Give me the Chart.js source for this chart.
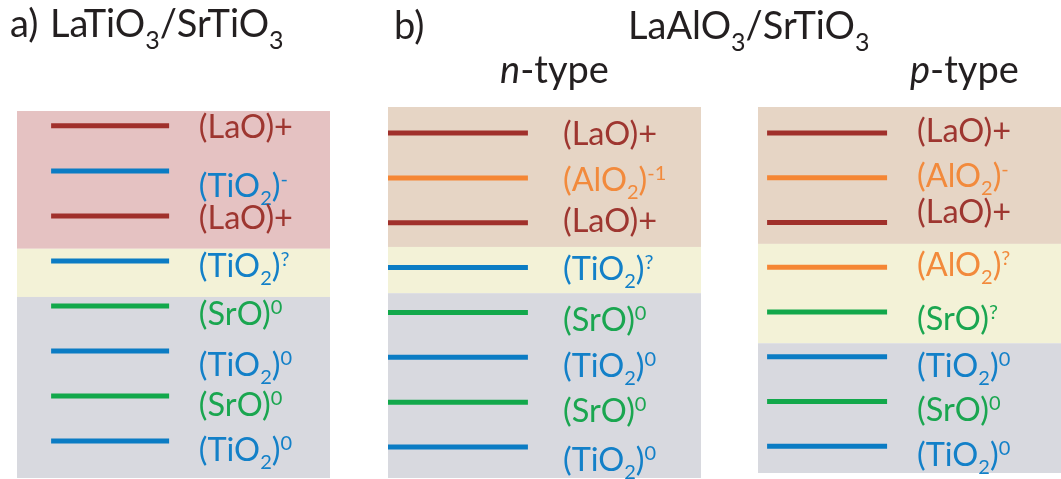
<!DOCTYPE html>
<html>
<head>
<meta charset="utf-8">
<script src="https://cdn.jsdelivr.net/npm/chart.js@4.4.1/dist/chart.umd.min.js"></script>
<style>
    html, body { margin: 0; padding: 0; background: #fff; }
    #wrap { position: relative; width: 1061px; height: 479px; }
    #wrap canvas { position: absolute; left: 0; top: 0; }
</style>
</head>
<body>
<div id="wrap">
    <canvas id="panelA" width="1061" height="479"></canvas>
    <canvas id="panelN" width="1061" height="479"></canvas>
    <canvas id="panelP" width="1061" height="479"></canvas>
</div>
<script>
// Layer stacks, surface first. _{} = subscript, ^{} = superscript, *..* = italic
const layersA = ['(LaO)+', '(TiO_{2})^{-}', '(LaO)+', '(TiO_{2})^{?}', '(SrO)^{0}', '(TiO_{2})^{0}', '(SrO)^{0}', '(TiO_{2})^{0}'];
const speciesA = ['LaO', 'TiO2', 'LaO', 'TiO2', 'SrO', 'TiO2', 'SrO', 'TiO2'];

const layersN = ['(LaO)+', '(AlO_{2})^{-1}', '(LaO)+', '(TiO_{2})^{?}', '(SrO)^{0}', '(TiO_{2})^{0}', '(SrO)^{0}', '(TiO_{2})^{0}'];
const speciesN = ['LaO', 'AlO2', 'LaO', 'TiO2', 'SrO', 'TiO2', 'SrO', 'TiO2'];

const layersP = ['(LaO)+', '(AlO_{2})^{-}', '(LaO)+', '(AlO_{2})^{?}', '(SrO)^{?}', '(TiO_{2})^{0}', '(SrO)^{0}', '(TiO_{2})^{0}'];
const speciesP = ['LaO', 'AlO2', 'LaO', 'AlO2', 'SrO', 'TiO2', 'SrO', 'TiO2'];

// region boundaries in layer units (film / interface / substrate)
const edgesA = [-0.33, 2.73, 3.8, 7.82];
const edgesN = [-0.58, 2.54, 3.57, 7.69];
const edgesP = [-0.58, 2.48, 4.7, 7.6];
const regionsA = ['LTO', 'interface', 'STO'];
const regionsN = ['LAO', 'interface', 'STO'];
const regionsP = ['LAO', 'interface', 'STO'];

// headings
const headsA = ['a)', 'LaTiO_{3}/SrTiO_{3}'];
const headsN = ['b)', 'LaAlO_{3}/SrTiO_{3}', '*n*-type'];
const headsP = ['*p*-type'];

const FONT = 'Lato, "Open Sans", sans-serif';
const lineColor = { LaO: '#a0302b', TiO2: '#0b7cc4', SrO: '#12a84b', AlO2: '#f58634' };
const textColor = { LaO: '#9e3630', TiO2: '#1380c8', SrO: '#1aa650', AlO2: '#f28a3c' };
const regionColor = { LTO: '#e5c2c2', LAO: '#e6d5c5', interface: '#f3f2d7', STO: '#d8d9df' };

const labelStyle = { size: 32.5, subSize: 20, subShift: 8, supShift: 11 };
const headStyle = { size: 38, subSize: 25, subShift: 12, supShift: 12 };

function parseRich(str) {
    const out = [];
    const re = /_\{([^}]*)\}|\^\{([^}]*)\}|\*([^*]*)\*|([^_^*]+)/g;
    let m;
    while ((m = re.exec(str))) {
        if (m[1] !== undefined) out.push({ t: m[1], mode: 'sub' });
        else if (m[2] !== undefined) out.push({ t: m[2], mode: 'sup' });
        else if (m[3] !== undefined) out.push({ t: m[3], mode: 'it' });
        else out.push({ t: m[4], mode: 'n' });
    }
    return out;
}

// y is the alphabetic baseline
function drawRich(ctx, str, x, y, st) {
    ctx.textBaseline = 'alphabetic';
    ctx.textAlign = 'left';
    parseRich(str).forEach(p => {
        let size = st.size, dy = 0, style = '';
        if (p.mode === 'sub') { size = st.subSize; dy = st.subShift; }
        if (p.mode === 'sup') { size = st.subSize; dy = -st.supShift; }
        if (p.mode === 'it') style = 'italic ';
        ctx.font = style + size + 'px ' + FONT;
        ctx.fillText(p.t, x, y + dy);
        x += ctx.measureText(p.t).width;
    });
}

const layerPanel = {
    id: 'layerPanel',
    beforeDatasetsDraw(chart, args, opts) {
        const { ctx, chartArea, scales: { y } } = chart;
        ctx.save();
        opts.regions.forEach((r, i) => {
            const top = y.getPixelForValue(opts.edges[i]);
            const bot = y.getPixelForValue(opts.edges[i + 1]);
            ctx.fillStyle = regionColor[r];
            ctx.fillRect(chartArea.left, top, chartArea.right - chartArea.left, bot - top);
        });
        ctx.restore();
    },
    afterDatasetsDraw(chart, args, opts) {
        const { ctx, scales: { x, y } } = chart;
        ctx.save();
        // paren centre sits on the layer line, then nudged as in the figure
        ctx.font = labelStyle.size + 'px ' + FONT;
        const pm = ctx.measureText('(');
        const toBase = (pm.actualBoundingBoxAscent - pm.actualBoundingBoxDescent) / 2;
        opts.labels.forEach((lab, i) => {
            ctx.fillStyle = textColor[opts.species[i]];
            drawRich(ctx, lab, x.getPixelForValue(opts.labelX), y.getPixelForValue(i) + opts.nudge[i] + toBase, labelStyle);
        });
        ctx.fillStyle = '#231f20';
        opts.heads.forEach((h, i) => {
            drawRich(ctx, h, opts.headPos[i][0], opts.headPos[i][1], headStyle);
        });
        ctx.restore();
    }
};

function makePanel(id, p) {
    const datasets = p.species.map((sp, i) => ({
        data: [{ x: p.segX[0], y: i }, { x: p.segX[1], y: i }],
        borderColor: lineColor[sp],
        borderWidth: 5,
        borderCapStyle: 'butt',
        pointRadius: 0
    }));
    return new Chart(document.getElementById(id), {
        type: 'line',
        data: { datasets },
        options: {
            responsive: false,
            animation: false,
            devicePixelRatio: 1,
            layout: { padding: { left: p.rect[0], top: p.rect[1], right: 1061 - p.rect[2], bottom: 479 - p.rect[3] } },
            scales: {
                x: { type: 'linear', min: 0, max: 100, display: false },
                y: { type: 'linear', min: p.edges[0], max: p.edges[p.edges.length - 1], reverse: true, display: false }
            },
            plugins: {
                legend: { display: false },
                tooltip: { enabled: false },
                layerPanel: {
                    labels: p.labels, species: p.species, edges: p.edges, regions: p.regions,
                    labelX: p.labelX, nudge: p.nudge, heads: p.heads, headPos: p.headPos
                }
            }
        },
        plugins: [layerPanel]
    });
}

makePanel('panelA', {
    labels: layersA, species: speciesA, edges: edgesA, regions: regionsA, heads: headsA,
    rect: [17, 111, 330, 478], segX: [10.9, 48.6], labelX: 58.1,
    nudge: [2, 16, 3, 6, 9, 14, 9, 9],
    headPos: [[10, 37], [50, 37]]
});
makePanel('panelN', {
    labels: layersN, species: speciesN, edges: edgesN, regions: regionsN, heads: headsN,
    rect: [388, 107, 701, 478], segX: [0, 44.7], labelX: 55.9,
    nudge: [1, 3, -1, 2, 8, 9, 9, 13],
    headPos: [[394, 39], [628, 39], [500, 83]]
});
makePanel('panelP', {
    labels: layersP, species: speciesP, edges: edgesP, regions: regionsP, heads: headsP,
    rect: [758, 107, 1061, 473], segX: [3.0, 42.6], labelX: 52.5,
    nudge: [-1, -1, -10, -2, 8, 10, 9, 9],
    headPos: [[910, 83]]
});
</script>
</body>
</html>
